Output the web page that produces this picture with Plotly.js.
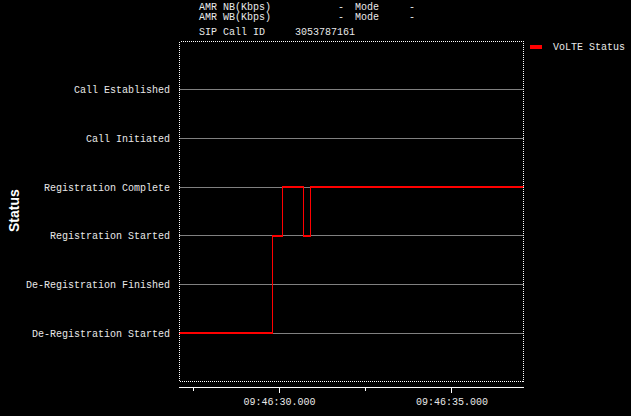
<!DOCTYPE html>
<html>
<head>
<meta charset="utf-8">
<script src="https://cdn.plot.ly/plotly-3.0.1.min.js"></script>
<style>
html,body{margin:0;padding:0;background:#000;}
#chart{width:631px;height:416px;}
</style>
</head>
<body>
<div id="chart"></div>
<script>
// Status categories (bottom to top)
const statusLabels = ["De-Registration Started","De-Registration Finished","Registration Started","Registration Complete","Call Initiated","Call Established"];
const statusLevels = [0,1,2,3,4,5];

// VoLTE status events (time, status level)
const eventTimes = ["2024-01-01 09:46:25.000","2024-01-01 09:46:29.800","2024-01-01 09:46:30.090","2024-01-01 09:46:30.700","2024-01-01 09:46:30.900","2024-01-01 09:46:38.000"];
const eventStatus = [0,2,3,2,3,3];

// Header info
const headerRows = [
  ["AMR NB(Kbps)","-","Mode","-"],
  ["AMR WB(Kbps)","-","Mode","-"]
];
const sipCallIdLabel = "SIP Call ID";
const sipCallId = "3053787161";

const seriesName = "VoLTE Status";
const xRange = ["2024-01-01 09:46:27.090","2024-01-01 09:46:37.090"];

const L = 179, R = 107, T = 41, B = 29;
const W = 631, H = 416;
const pw = W - L - R, ph = H - T - B;
const px = x => (x - L) / pw;
const py = y => (H - B - y) / ph;

const mono = "Liberation Mono, DejaVu Sans Mono, monospace";
const txtColor = "#e8e8e8";

const annotations = [];
function addText(text, x, y, anchor) {
  annotations.push({text: text, xref: "paper", yref: "paper", x: px(x), y: py(y),
    xanchor: anchor || "left", yanchor: "middle", showarrow: false,
    font: {family: mono, size: 10, color: txtColor}});
}
headerRows.forEach((row, i) => {
  const y = i === 0 ? 7 : 18;
  addText(row[0], 197, y);
  addText(row[1], 336, y);
  addText(row[2], 353, y);
  addText(row[3], 407, y);
});
addText(sipCallIdLabel, 197, 32);
addText(sipCallId, 293, 32);
addText(seriesName, 551, 47);
annotations.push({text: "<b>Status</b>", xref: "paper", yref: "paper", x: px(14), y: py(211),
  xanchor: "center", yanchor: "middle", textangle: -90, showarrow: false,
  font: {family: "Liberation Sans, Arial, sans-serif", size: 14, color: "#ffffff"}});

const shapes = [
  {type: "rect", xref: "paper", yref: "paper", x0: px(179.5), x1: px(523.5), y0: py(381.5), y1: py(41.5),
   line: {color: "#ffffff", width: 1, dash: "1px,1px"}, layer: "above"},
  {type: "rect", xref: "paper", yref: "paper", x0: px(530), x1: px(542), y0: py(49), y1: py(45),
   fillcolor: "#ff0000", line: {width: 0}}
];

const trace = {
  x: eventTimes, y: eventStatus, type: "scatter", mode: "lines",
  line: {shape: "hv", color: "#ff0000", width: 1.5}, name: seriesName,
  showlegend: false, hoverinfo: "skip", cliponaxis: true
};

const layout = {
  width: W, height: H,
  paper_bgcolor: "#000", plot_bgcolor: "#000",
  margin: {l: L, r: R, t: T, b: B, pad: 0},
  showlegend: false,
  xaxis: {
    type: "date", range: xRange, showgrid: false, zeroline: false,
    showline: true, linecolor: "#ffffff", linewidth: 1,
    ticks: "outside", ticklen: 5, tickcolor: "#ffffff", tickwidth: 1,
    dtick: 5000, tick0: "2024-01-01 09:46:30.000", tickformat: "%H:%M:%S.%L",
    minor: {dtick: 2500, tick0: "2024-01-01 09:46:27.500", ticks: "outside", ticklen: 3, tickcolor: "#ffffff", showgrid: false},
    tickfont: {family: mono, size: 10, color: txtColor}
  },
  yaxis: {
    range: [-1.111, 6.008], tickvals: statusLevels, ticktext: statusLabels,
    showgrid: true, gridcolor: "#808080", gridwidth: 1, zeroline: false,
    showline: false, ticks: "", ticklabelstandoff: 8,
    tickfont: {family: mono, size: 10, color: txtColor}
  },
  annotations: annotations,
  shapes: shapes
};

Plotly.newPlot("chart", [trace], layout, {staticPlot: true, displayModeBar: false}).then(gd => {
  gd.querySelectorAll(".shapelayer path").forEach(p => p.setAttribute("shape-rendering", "crispEdges"));
  gd.querySelectorAll(".scatterlayer path.js-line").forEach(p => p.setAttribute("shape-rendering", "crispEdges"));
});
</script>
</body>
</html>
